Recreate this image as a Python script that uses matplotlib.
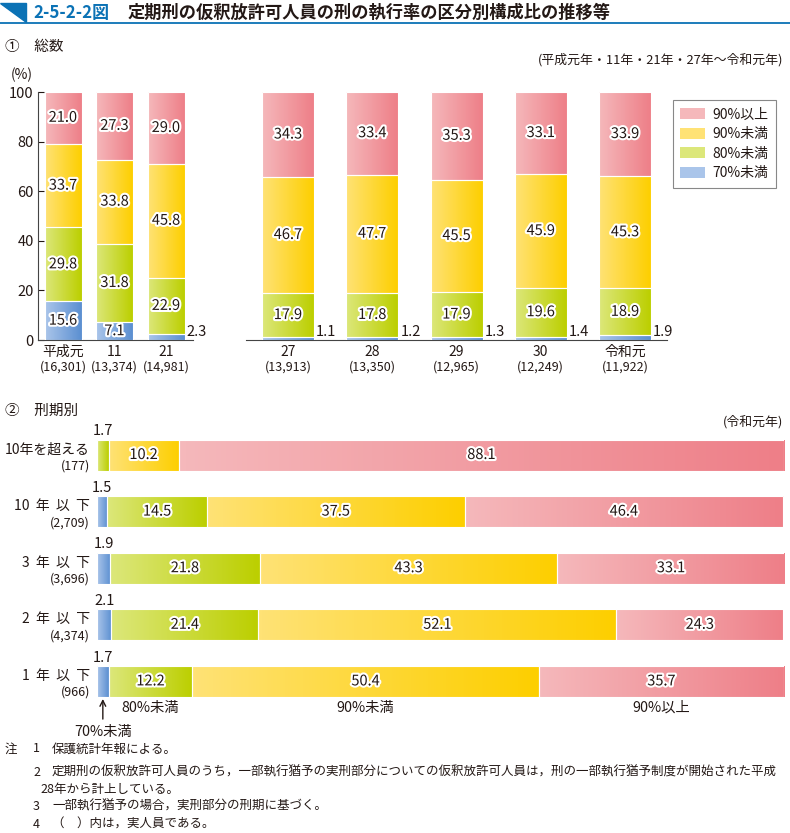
import numpy as np
import matplotlib
matplotlib.use('Agg')
import matplotlib.pyplot as plt
import matplotlib.patheffects as pe
from matplotlib.colors import LinearSegmentedColormap
from matplotlib.patches import Polygon, Patch
from matplotlib.lines import Line2D

plt.rcParams['font.family'] = ['Noto Sans CJK JP', 'DejaVu Sans']

# ① 総数
years = ['平成元', '11', '21', '27', '28', '29', '30', '令和元']
year_counts = ['(16,301)', '(13,374)', '(14,981)', '(13,913)', '(13,350)', '(12,965)', '(12,249)', '(11,922)']
under70 = [15.6, 7.1, 2.3, 1.1, 1.2, 1.3, 1.4, 1.9]
under80 = [29.8, 31.8, 22.9, 17.9, 17.8, 17.9, 19.6, 18.9]
under90 = [33.7, 33.8, 45.8, 46.7, 47.7, 45.5, 45.9, 45.3]
over90 = [21.0, 27.3, 29.0, 34.3, 33.4, 35.3, 33.1, 33.9]

# ② 刑期別
terms = ['10年を超える', '10  年  以  下', '3  年  以  下', '2  年  以  下', '1  年  以  下']
term_counts = ['(177)', '(2,709)', '(3,696)', '(4,374)', '(966)']
t70 = [0.0, 1.5, 1.9, 2.1, 1.7]
t80 = [1.7, 14.5, 21.8, 21.4, 12.2]
t90 = [10.2, 37.5, 43.3, 52.1, 50.4]
t100 = [88.1, 46.4, 33.1, 24.3, 35.7]

group_labels = ['70%未満', '80%未満', '90%未満', '90%以上']
notes = [
    ('注', '1', '保護統計年報による。'),
    ('', '2', '定期刑の仮釈放許可人員のうち，一部執行猶予の実刑部分についての仮釈放許可人員は，刑の一部執行猶予制度が開始された平成'),
    ('', '', '28年から計上している。'),
    ('', '3', '一部執行猶予の場合，実刑部分の刑期に基づく。'),
    ('', '4', '（　）内は，実人員である。'),
]

W, H = 790, 833
BLUE = '#0b72b5'
TXT = '#231815'
# (light, dark) for gradient
grads = [('#aac5ea', '#5b8fd1'), ('#dce77a', '#bccf00'),
         ('#ffe275', '#fdcf00'), ('#f5b8bb', '#ee7f88')]
stroke = [pe.withStroke(linewidth=3, foreground='white')]


def fx(px):
    return px / W


def fy(py):
    return 1 - py / H


def grad_fill(ax, patch, light, dark):
    x0, y0 = patch.get_x(), patch.get_y()
    w, h = patch.get_width(), patch.get_height()
    if w == 0 or h == 0:
        return
    cmap = LinearSegmentedColormap.from_list('g', [light, dark])
    g = np.linspace(0, 1, 64).reshape(1, -1)
    im = ax.imshow(g, cmap=cmap, extent=(x0, x0 + w, y0, y0 + h),
                   aspect='auto', origin='lower', zorder=2, interpolation='bilinear')
    im.set_clip_path(patch)


def draw_columns(ax, idx, width):
    layers = [under70, under80, under90, over90]
    pos = np.arange(len(idx))
    bottom = np.zeros(len(idx))
    for k, layer in enumerate(layers):
        vals = np.array([layer[i] for i in idx])
        bars = ax.bar(pos, vals, width, bottom=bottom, color=grads[k][0],
                      edgecolor='none', zorder=1)
        for p in bars:
            grad_fill(ax, p, *grads[k])
        ax.bar(pos, vals, width, bottom=bottom, fill=False,
               edgecolor='white', lw=0.8, zorder=3)
        for j, v in enumerate(vals):
            if v >= 3:
                ax.text(pos[j], bottom[j] + v / 2, f'{v:.1f}', ha='center', va='center',
                        fontsize=10.5, color=TXT, zorder=5, path_effects=stroke)
            else:
                ax.annotate(f'{v:.1f}', xy=(pos[j] + width / 2, 0), xytext=(1.5, 0.5),
                            textcoords='offset points', ha='left', va='bottom',
                            fontsize=10.5, color=TXT, zorder=5)
        bottom += vals
    for j, i in enumerate(idx):
        ax.annotate(years[i], xy=(pos[j], 0), xytext=(0, -8.8), textcoords='offset points',
                    ha='center', va='center', fontsize=10, color=TXT, annotation_clip=False)
        ax.annotate(year_counts[i], xy=(pos[j], 0), xytext=(0, -19.8), textcoords='offset points',
                    ha='center', va='center', fontsize=9, color=TXT, annotation_clip=False)
    ax.set_ylim(0, 100)
    ax.set_xticks([])
    for s in ['top', 'right']:
        ax.spines[s].set_visible(False)
    ax.spines['bottom'].set_color('#444')
    ax.spines['bottom'].set_linewidth(0.8)


fig = plt.figure(figsize=(W / 100, H / 100), dpi=100)

# title
fig.add_artist(Polygon([(fx(0), fy(3)), (fx(26), fy(3)), (fx(26), fy(22))],
                       closed=True, color=BLUE, transform=fig.transFigure))
fig.add_artist(Line2D([fx(0), fx(790)], [fy(22.5), fy(22.5)], color=BLUE, lw=1.3,
                      transform=fig.transFigure))
fig.text(fx(33), fy(12.5), '2-5-2-2図', color=BLUE, fontsize=12.2, weight='bold', va='center')
fig.text(fx(128), fy(12.5), '定期刑の仮釈放許可人員の刑の執行率の区分別構成比の推移等',
         color=TXT, fontsize=12.4, weight='bold', va='center')

fig.text(fx(5), fy(47), '①　総数', fontsize=10.5, color=TXT, va='center')
fig.text(fx(783), fy(60), '(平成元年・11年・21年・27年～令和元年)', fontsize=9.3,
         color=TXT, ha='right', va='center')
fig.text(fx(22), fy(75), '(%)', fontsize=10, color=TXT, ha='center', va='center')

# ① left group
ax1 = fig.add_axes([fx(38), fy(340), (193 - 38) / W, 248 / H])
draw_columns(ax1, [0, 1, 2], 37 / 51.5)
ax1.set_xlim(-25 / 51.5, 130 / 51.5)
ax1.set_yticks(range(0, 101, 20))
ax1.tick_params(axis='y', direction='in', length=4, labelsize=10.5, pad=3,
                colors=TXT, width=0.8)
ax1.spines['left'].set_color('#444')
ax1.spines['left'].set_linewidth(0.8)

# ① right group
ax2 = fig.add_axes([fx(246), fy(340), (667 - 246) / W, 248 / H])
draw_columns(ax2, [3, 4, 5, 6, 7], 52 / 84.25)
ax2.set_xlim(-42 / 84.25, 379 / 84.25)
ax2.set_yticks([])
ax2.spines['left'].set_visible(False)

handles = [Patch(facecolor=grads[k][1], edgecolor='none') for k in [3, 2, 1, 0]]
leg = fig.legend(handles, [group_labels[k] for k in [3, 2, 1, 0]], loc='upper right',
                 bbox_to_anchor=(fx(783), fy(93)), fontsize=10, fancybox=False,
                 edgecolor='#888', framealpha=1, handlelength=1.8, handleheight=0.85,
                 labelspacing=0.4, borderpad=0.55, handletextpad=0.5)
leg.get_frame().set_linewidth(0.8)
for t in leg.get_texts():
    t.set_color(TXT)
for p, k in zip(leg.get_patches(), [3, 2, 1, 0]):
    p.set_facecolor(grads[k][0])

# ② 刑期別
fig.text(fx(5), fy(411), '②　刑期別', fontsize=10.5, color=TXT, va='center')
fig.text(fx(783), fy(422), '(令和元年)', fontsize=9.3, color=TXT, ha='right', va='center')

ax3 = fig.add_axes([fx(97), fy(700), 687 / W, 270 / H])
h = 31 / 56.6
ypos = np.arange(len(terms))
left = np.zeros(len(terms))
for k, layer in enumerate([t70, t80, t90, t100]):
    vals = np.array(layer)
    bars = ax3.barh(ypos, vals, h, left=left, color=grads[k][0], edgecolor='none', zorder=1)
    for p in bars:
        grad_fill(ax3, p, *grads[k])
    ax3.barh(ypos, vals, h, left=left, fill=False, edgecolor='white', lw=0.8, zorder=3)
    for i, v in enumerate(vals):
        if v >= 5:
            ax3.text(left[i] + v / 2, ypos[i], f'{v:.1f}', ha='center', va='center',
                     fontsize=10.5, color=TXT, zorder=5, path_effects=stroke)
        elif v > 0:
            ax3.annotate(f'{v:.1f}', xy=(left[i] + v / 2, ypos[i] - h / 2), xytext=(0, 1),
                         textcoords='offset points', ha='center', va='bottom',
                         fontsize=10.5, color=TXT, annotation_clip=False)
    # category names under the last bar
    last = len(terms) - 1
    cx = left[last] + vals[last] / 2
    if k == 0:
        ax3.annotate(group_labels[k], xy=(cx, ypos[last] + h / 2), xytext=(0, -25),
                     textcoords='offset points', ha='center', va='center', fontsize=10.3,
                     color=TXT, annotation_clip=False,
                     arrowprops=dict(arrowstyle='->', lw=1, color=TXT, shrinkA=2, shrinkB=1.5))
    else:
        ax3.annotate(group_labels[k], xy=(cx, ypos[last] + h / 2), xytext=(0, -8),
                     textcoords='offset points', ha='center', va='center', fontsize=10.3,
                     color=TXT, annotation_clip=False)
    left += vals

for i, name in enumerate(terms):
    ax3.annotate(name, xy=(0, ypos[i]), xytext=(-5, 4), textcoords='offset points',
                 ha='right', va='center', fontsize=10, color=TXT, annotation_clip=False)
    ax3.annotate(term_counts[i], xy=(0, ypos[i]), xytext=(-5, -8), textcoords='offset points',
                 ha='right', va='center', fontsize=9, color=TXT, annotation_clip=False)

ax3.set_xlim(0, 100)
ax3.set_ylim(245 / 56.6, -25 / 56.6)
ax3.axis('off')

# notes
note_y = [749, 772, 789, 806, 824]
for (a, b, c), y in zip(notes, note_y):
    if a:
        fig.text(fx(5), fy(y), a, fontsize=9, color=TXT, va='center')
    if b:
        fig.text(fx(33), fy(y), b, fontsize=9, color=TXT, va='center')
        fig.text(fx(52), fy(y), c, fontsize=9, color=TXT, va='center')
    else:
        fig.text(fx(40), fy(y), c, fontsize=9, color=TXT, va='center')

fig.savefig('out.png', dpi=100)
